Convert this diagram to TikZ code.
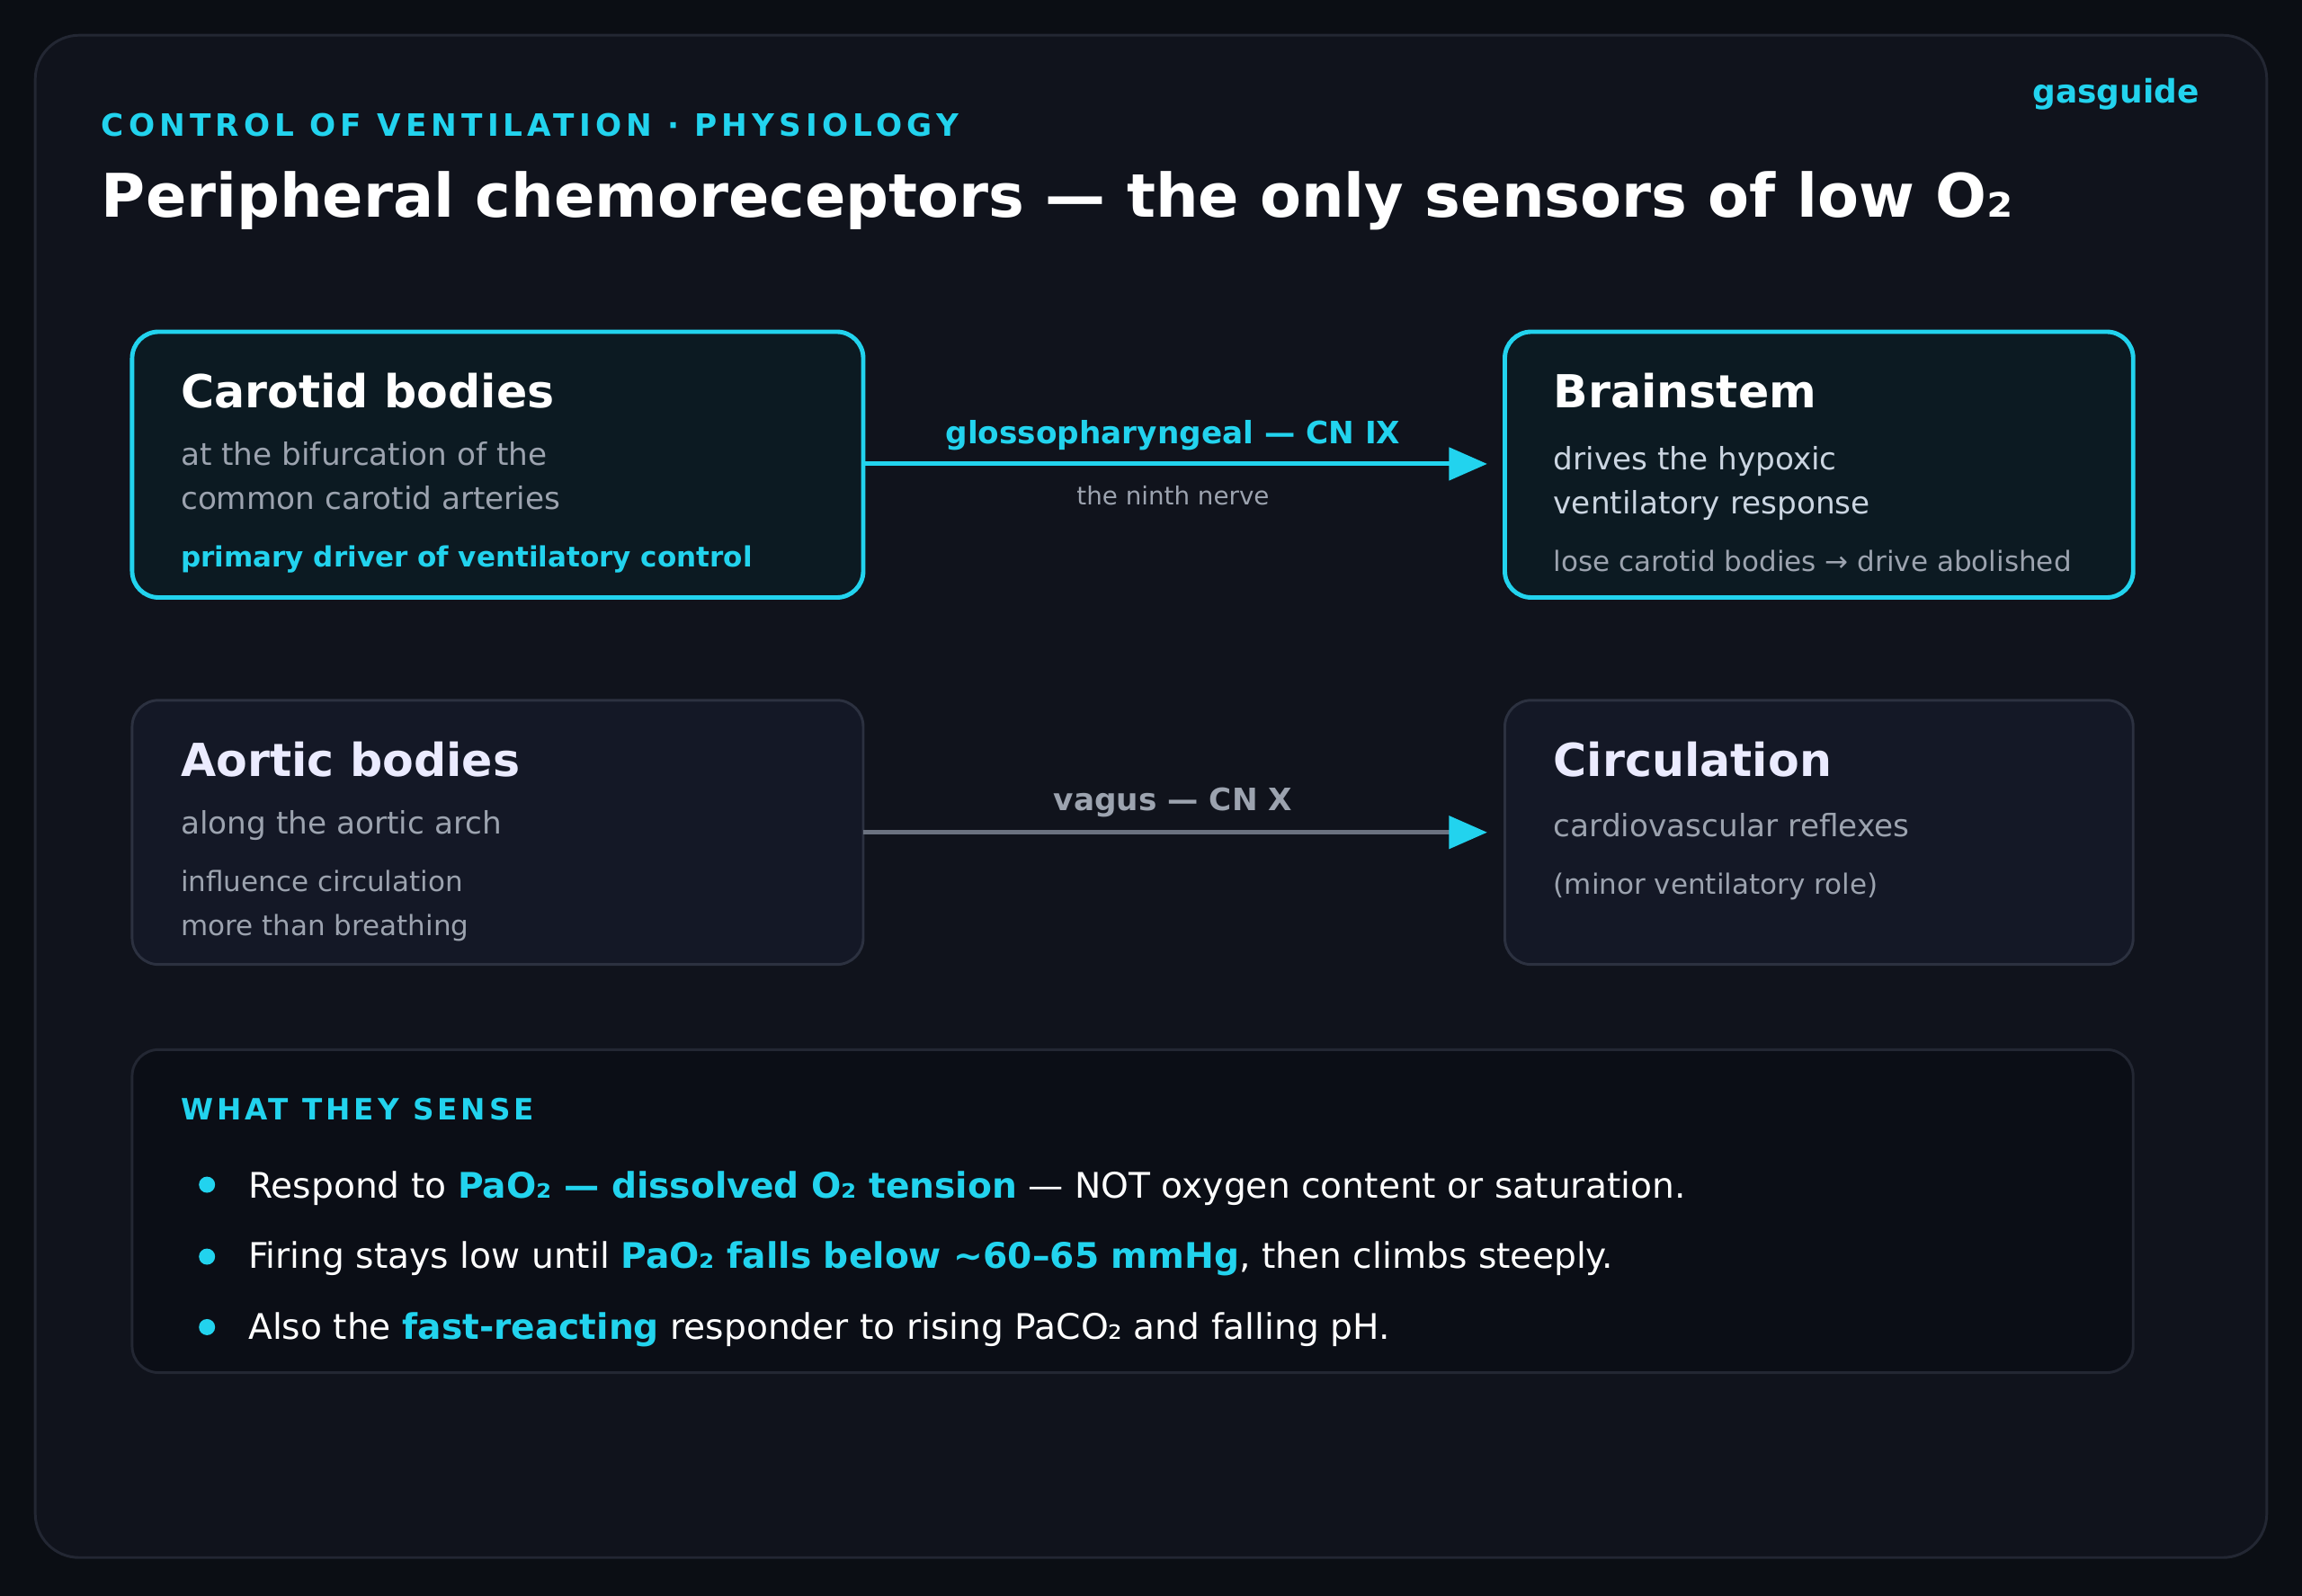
\documentclass[tikz,border=0pt]{standalone}
\usepackage{fontspec}
\setmainfont{DejaVu Sans}
\usetikzlibrary{arrows.meta}
\definecolor{pagebg}{HTML}{0B0E14}
\definecolor{cardbg}{HTML}{10131C}
\definecolor{cardline}{HTML}{232733}
\definecolor{cyan}{HTML}{22D3EE}
\definecolor{hotbg}{HTML}{0C1A22}
\definecolor{coolbg}{HTML}{141826}
\definecolor{coolline}{HTML}{2C3140}
\definecolor{sensebg}{HTML}{0B0E16}
\definecolor{mute}{HTML}{9CA3AF}
\definecolor{soft}{HTML}{CBD5E1}
\definecolor{wire}{HTML}{6B7280}
\tikzset{
  txt/.style={anchor=base west, inner sep=0pt, font=\fontsize{21}{25}\selectfont},
  head/.style={txt, text=white, font=\fontsize{31}{36}\selectfont\bfseries},
  hot/.style={draw=cyan, line width=3pt, fill=hotbg, rounded corners=18pt},
  cool/.style={draw=coolline, line width=1.8pt, fill=coolbg, rounded corners=18pt},
  link/.style={line width=3pt, -{Triangle[length=26pt,width=22pt]}},
  dot/.style={circle, fill=cyan, inner sep=0pt, minimum size=11pt}
}
\begin{document}
\begin{tikzpicture}[x=1pt,y=-1pt]
  \useasboundingbox (0,0) rectangle (1568,1087);
  \fill[pagebg] (0,0) rectangle (1568,1087);
  \draw[cardline, line width=1.8pt, fill=cardbg, rounded corners=30pt] (24,24) rectangle (1544,1061);

  \node[txt, anchor=base east, text=cyan, font=\fontsize{22}{26}\selectfont\bfseries] (brand) at (1498,70) {gasguide};
  \node[txt, text=cyan, font=\fontsize{21}{25}\selectfont\bfseries\addfontfeatures{LetterSpace=15}] (kicker) at (69,93) {CONTROL OF VENTILATION · PHYSIOLOGY};
  \node[txt, text=white, font=\fontsize{41}{48}\selectfont\bfseries] (title) at (69,148) {Peripheral chemoreceptors — the only sensors of low O₂};

  % receptor boxes
  \draw[hot] (90,226) rectangle (588,407);
  \coordinate (carotid) at (588,316);
  \node[head] (carotidT) at (123,278) {Carotid bodies};
  \node[txt, text=mute] (carotidA) at (123,317) {at the bifurcation of the};
  \node[txt, text=mute] (carotidB) at (123,347) {common carotid arteries};
  \node[txt, text=cyan, font=\fontsize{19}{23}\selectfont\bfseries] (carotidC) at (123,386) {primary driver of ventilatory control};

  \draw[hot] (1025,226) rectangle (1453,407);
  \coordinate (brain) at (1013,316);
  \node[head] (brainT) at (1058,278) {Brainstem};
  \node[txt, text=soft] (brainA) at (1058,320) {drives the hypoxic};
  \node[txt, text=soft] (brainB) at (1058,350) {ventilatory response};
  \node[txt, text=mute, font=\fontsize{19}{23}\selectfont] (brainC) at (1058,389) {lose carotid bodies → drive abolished};

  \draw[cool] (90,477) rectangle (588,657);
  \coordinate (aortic) at (588,567);
  \node[head, text=white!92!blue] (aorticT) at (123,529) {Aortic bodies};
  \node[txt, text=mute] (aorticA) at (123,568) {along the aortic arch};
  \node[txt, text=mute, font=\fontsize{19}{23}\selectfont] (aorticB) at (123,607) {influence circulation};
  \node[txt, text=mute, font=\fontsize{19}{23}\selectfont] (aorticC) at (123,637) {more than breathing};

  \draw[cool] (1025,477) rectangle (1453,657);
  \coordinate (circ) at (1013,567);
  \node[head, text=white!92!blue] (circT) at (1058,529) {Circulation};
  \node[txt, text=mute] (circA) at (1058,570) {cardiovascular reflexes};
  \node[txt, text=mute, font=\fontsize{19}{23}\selectfont] (circB) at (1058,609) {(minor ventilatory role)};

  % nerves
  \draw[link, cyan] (carotid) -- (brain);
  \node[txt, anchor=base, text=cyan, font=\fontsize{21}{25}\selectfont\bfseries] (cn9) at (799,302) {glossopharyngeal — CN IX};
  \node[txt, anchor=base, text=mute, font=\fontsize{17}{21}\selectfont] (cn9b) at (799,344) {the ninth nerve};
  \draw[link, wire, -{Triangle[length=26pt,width=22pt,fill=cyan,color=cyan]}] (aortic) -- (circ);
  \node[txt, anchor=base, text=mute, font=\fontsize{21}{25}\selectfont\bfseries] (cn10) at (799,552) {vagus — CN X};

  % what they sense
  \draw[cardline, line width=1.8pt, fill=sensebg, rounded corners=18pt] (90,715) rectangle (1453,935);
  \node[txt, text=cyan, font=\fontsize{20}{24}\selectfont\bfseries\addfontfeatures{LetterSpace=12}] (senseT) at (123,763) {WHAT THEY SENSE};
  \node[dot] (d1) at (141,807) {};
  \node[dot] (d2) at (141,856) {};
  \node[dot] (d3) at (141,904) {};
  \node[txt, text=white, font=\fontsize{24}{28}\selectfont] (s1) at (169,816) {Respond to \textcolor{cyan}{\bfseries PaO₂ — dissolved O₂ tension} — NOT oxygen content or saturation.};
  \node[txt, text=white, font=\fontsize{24}{28}\selectfont] (s2) at (169,864) {Firing stays low until \textcolor{cyan}{\bfseries PaO₂ falls below \textasciitilde60–65 mmHg}, then climbs steeply.};
  \node[txt, text=white, font=\fontsize{24}{28}\selectfont] (s3) at (169,912) {Also the \textcolor{cyan}{\bfseries fast-reacting} responder to rising PaCO₂ and falling pH.};
\end{tikzpicture}
\end{document}
